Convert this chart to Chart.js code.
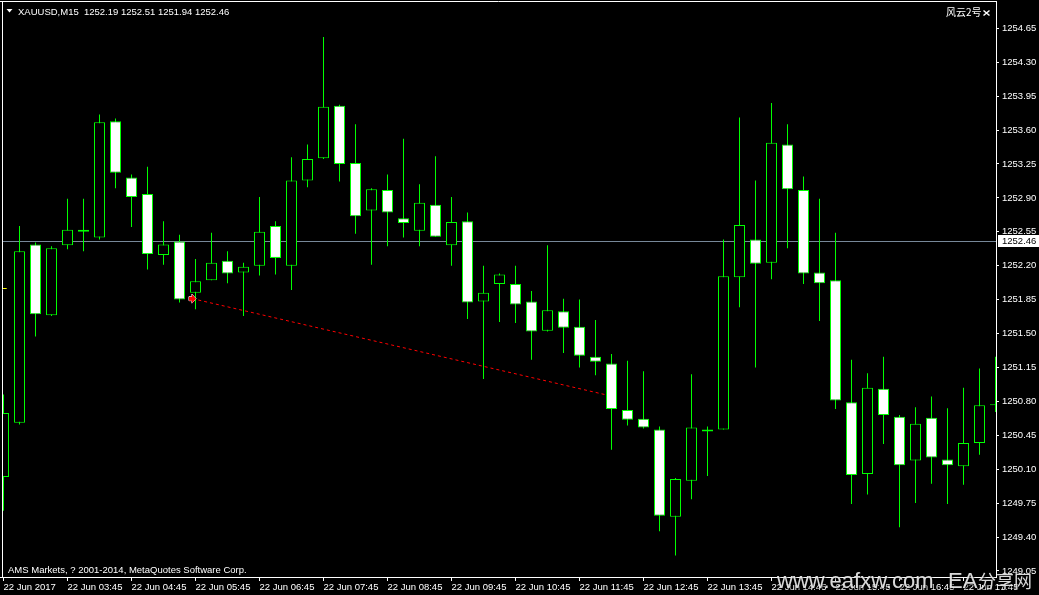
<!DOCTYPE html>
<html>
<head>
<meta charset="utf-8">
<script src="https://cdn.jsdelivr.net/npm/chart.js@4.4.1/dist/chart.umd.min.js"></script>
<style>
  html, body { margin: 0; padding: 0; background: #000; overflow: hidden; }
  canvas { display: block; }
</style>
</head>
<body>
<canvas id="chart" width="1039" height="595"></canvas>
<script>
// XAUUSD M15 bars, 22 Jun 2017 02:45 onward
const opens = [1250.02,1250.58,1252.42,1251.69,1252.41,1252.55,1252.49,1253.69,1253.11,1252.94,
  1252.31,1252.45,1251.92,1252.05,1252.25,1252.13,1252.20,1252.61,1252.20,1253.08,
  1253.31,1253.85,1253.26,1252.77,1252.98,1252.69,1252.56,1252.83,1252.41,1252.66,
  1251.83,1252.01,1252.01,1251.83,1251.53,1251.73,1251.57,1251.26,1251.19,1250.71,
  1250.62,1250.51,1249.61,1249.98,1250.51,1250.51,1252.08,1252.47,1252.23,1253.45,
  1252.98,1252.13,1252.05,1250.79,1250.05,1250.93,1250.64,1250.19,1250.63,1250.20,
  1250.13,1250.37,1250.76];
const highs = [1250.87,1252.61,1252.44,1252.40,1252.89,1252.89,1253.76,1253.72,1253.14,1253.22,
  1252.66,1252.52,1252.27,1252.54,1252.35,1252.23,1252.91,1252.66,1253.32,1253.45,
  1254.56,1253.86,1253.66,1253.00,1253.14,1253.51,1253.04,1253.33,1252.91,1252.75,
  1252.20,1252.12,1252.20,1251.94,1252.41,1251.86,1251.85,1251.64,1251.29,1251.22,
  1251.11,1250.54,1250.01,1251.08,1250.54,1252.47,1253.73,1253.08,1253.88,1253.66,
  1253.12,1252.89,1252.54,1251.23,1251.09,1251.26,1250.66,1250.74,1250.85,1250.73,
  1250.94,1251.14,1251.26];
const lows = [1249.67,1250.56,1251.47,1251.68,1252.37,1252.35,1252.47,1253.00,1252.60,1252.16,
  1252.21,1251.82,1251.75,1252.05,1252.02,1251.68,1252.10,1252.11,1251.95,1253.01,
  1253.30,1253.07,1252.53,1252.21,1252.40,1252.49,1252.40,1252.50,1252.20,1251.65,
  1251.03,1251.62,1251.61,1251.23,1251.52,1251.30,1251.15,1251.07,1250.30,1250.55,
  1250.52,1249.46,1249.21,1249.79,1250.03,1250.51,1251.77,1251.15,1252.06,1252.38,
  1252.01,1251.63,1250.72,1249.74,1249.84,1250.36,1249.50,1249.75,1249.95,1249.74,
  1249.94,1250.25,1250.69];
const closes = [1250.68,1252.35,1251.70,1252.38,1252.57,1252.57,1253.68,1253.16,1252.91,1252.32,
  1252.42,1251.85,1252.04,1252.23,1252.12,1252.19,1252.55,1252.28,1253.08,1253.30,
  1253.84,1253.25,1252.71,1252.99,1252.75,1252.64,1252.85,1252.50,1252.65,1251.82,
  1251.92,1252.11,1251.80,1251.52,1251.74,1251.56,1251.27,1251.21,1250.72,1250.61,
  1250.53,1249.62,1250.00,1250.53,1250.49,1252.09,1252.62,1252.22,1253.47,1252.99,
  1252.12,1252.02,1250.81,1250.04,1250.94,1250.66,1250.14,1250.57,1250.22,1250.14,
  1250.37,1250.76,1250.77];

// one label every 4 bars (1 hour)
const timeLabels = ['22 Jun 2017','22 Jun 03:45','22 Jun 04:45','22 Jun 05:45','22 Jun 06:45',
  '22 Jun 07:45','22 Jun 08:45','22 Jun 09:45','22 Jun 10:45','22 Jun 11:45','22 Jun 12:45',
  '22 Jun 13:45','22 Jun 14:45','22 Jun 15:45','22 Jun 16:45','22 Jun 17:45'];
const priceTicks = [1249.05,1249.40,1249.75,1250.10,1250.45,1250.80,1251.15,1251.50,1251.85,
  1252.20,1252.55,1252.90,1253.25,1253.60,1253.95,1254.30,1254.65];

const bidPrice = 1252.46;
// dotted trendline drawn from the arrow object
const trendBars = [11.81, 37.59];
const trendPrices = [1251.86, 1250.87];
const markerBar = 0.075;
const markerPrice = 1251.97;

const FONT = '"Liberation Sans", Arial, sans-serif';
const GREEN = '#00ff00';
Chart.defaults.font.family = FONT;
Chart.defaults.font.size = 9.5;

const isBull = closes.map((c, i) => c >= opens[i]);

const overlay = {
  id: 'overlay',
  beforeDatasetsDraw(chart) {
    const { ctx, chartArea } = chart;
    const y = Math.round(chart.scales.y.getPixelForValue(bidPrice)) + 0.5;
    ctx.save();
    ctx.strokeStyle = '#778899';
    ctx.lineWidth = 1;
    ctx.beginPath();
    ctx.moveTo(chartArea.left, y);
    ctx.lineTo(chartArea.right, y);
    ctx.stroke();
    ctx.restore();
  },
  afterDatasetsDraw(chart) {
    // arrow object at the start of the trendline + small yellow marker
    const { ctx, scales: { x, y } } = chart;
    const ax = x.getPixelForValue(trendBars[0]);
    const ay = y.getPixelForValue(trendPrices[0]);
    ctx.save();
    ctx.fillStyle = '#ff0000';
    ctx.strokeStyle = '#fff';
    ctx.lineWidth = 1;
    ctx.beginPath();
    ctx.moveTo(ax - 3.5, ay - 2);
    ctx.lineTo(ax - 0.5, ay - 2);
    ctx.lineTo(ax - 0.5, ay - 4.5);
    ctx.lineTo(ax + 3.5, ay);
    ctx.lineTo(ax - 0.5, ay + 4.5);
    ctx.lineTo(ax - 0.5, ay + 2);
    ctx.lineTo(ax - 3.5, ay + 2);
    ctx.closePath();
    ctx.stroke();
    ctx.fill();
    const mx = x.getPixelForValue(markerBar);
    const my = Math.round(y.getPixelForValue(markerPrice)) + 0.5;
    ctx.strokeStyle = '#ffff00';
    ctx.beginPath();
    ctx.moveTo(mx - 2, my); ctx.lineTo(mx + 2, my);
    ctx.stroke();
    ctx.restore();
  },
  afterDraw(chart) {
    const { ctx, chartArea } = chart;
    ctx.save();
    // frame
    ctx.strokeStyle = '#fff';
    ctx.lineWidth = 1;
    ctx.beginPath();
    ctx.moveTo(2.5, 1.5); ctx.lineTo(2.5, chartArea.bottom);
    ctx.moveTo(0, 1.5); ctx.lineTo(chartArea.right + 1, 1.5);
    ctx.moveTo(0, chartArea.bottom + 0.5); ctx.lineTo(chartArea.right, chartArea.bottom + 0.5);
    ctx.stroke();

    // bid label on the price axis
    const by = Math.round(chart.scales.y.getPixelForValue(bidPrice));
    ctx.fillStyle = '#fff';
    ctx.fillRect(998, by - 6, 41, 12);
    ctx.fillStyle = '#000';
    ctx.font = '9.5px ' + FONT;
    ctx.textBaseline = 'middle';
    ctx.fillText(bidPrice.toFixed(2), 1002, by + 0.5);

    // header
    ctx.fillStyle = '#fff';
    ctx.beginPath();
    ctx.moveTo(6.5, 9); ctx.lineTo(12.5, 9); ctx.lineTo(9.5, 12.5); ctx.closePath();
    ctx.fill();
    ctx.textBaseline = 'alphabetic';
    ctx.fillText('XAUUSD,M15  1252.19 1252.51 1251.94 1252.46', 18, 14.5);

    // expert name, top right
    ctx.font = '10px "Noto Sans CJK SC", sans-serif';
    ctx.fillText('风云2号', 946, 16);
    ctx.strokeStyle = '#fff';
    ctx.lineWidth = 1.5;
    ctx.beginPath();
    ctx.moveTo(983.5, 10.5); ctx.lineTo(989.5, 15.5);
    ctx.moveTo(989.5, 10.5); ctx.lineTo(983.5, 15.5);
    ctx.stroke();

    // copyright
    ctx.font = '9.5px ' + FONT;
    ctx.fillText('AMS Markets, ? 2001-2014, MetaQuotes Software Corp.', 8, 573);

    // watermark
    ctx.shadowColor = 'rgba(0,0,0,0.9)';
    ctx.shadowBlur = 2;
    ctx.shadowOffsetX = 1;
    ctx.shadowOffsetY = 1;
    ctx.fillStyle = 'rgba(235,235,235,0.92)';
    ctx.font = '22px ' + FONT;
    ctx.fillText('www.eafxw.com', 777, 588);
    ctx.fillText('EA', 948, 588);
    ctx.font = '18px "Noto Sans CJK SC", sans-serif';
    ctx.fillText('分享网', 978, 588);
    ctx.restore();
  }
};

new Chart(document.getElementById('chart'), {
  type: 'bar',
  data: {
    datasets: [
      {
        label: 'trend',
        type: 'line',
        data: trendBars.map((x, i) => ({ x, y: trendPrices[i] })),
        borderColor: '#ff0000',
        borderWidth: 1,
        borderDash: [3, 3],
        pointRadius: 0,
        order: 0
      },
      {
        label: 'bodies',
        data: opens.map((o, i) => ({ x: i, y: [o, closes[i]] })),
        backgroundColor: isBull.map(b => b ? '#000' : '#fff'),
        borderColor: GREEN,
        borderWidth: 1,
        borderSkipped: false,
        barThickness: 11,
        grouped: false,
        inflateAmount: 0,
        order: 1
      },
      {
        label: 'wicks',
        data: highs.map((h, i) => ({ x: i, y: [lows[i], h] })),
        backgroundColor: GREEN,
        borderWidth: 0,
        barThickness: 1,
        grouped: false,
        inflateAmount: 0,
        order: 2
      }
    ]
  },
  options: {
    responsive: false,
    animation: false,
    devicePixelRatio: 1,
    layout: { padding: { left: 2, top: 2, right: 0, bottom: 0 } },
    plugins: { legend: { display: false }, tooltip: { enabled: false } },
    scales: {
      x: {
        type: 'linear',
        min: -0.09375,
        max: 62.03125,
        offset: false,
        bounds: 'data',
        afterBuildTicks: s => { s.ticks = timeLabels.map((_, i) => ({ value: i * 4 })); },
        afterFit: s => { s.height = 18; s.paddingLeft = 0; s.paddingRight = 0; },
        grid: { offset: false, drawOnChartArea: false, tickLength: 4, tickColor: '#fff', color: '#fff' },
        border: { display: true, color: '#fff' },
        ticks: {
          color: '#fff', align: 'start', autoSkip: false, maxRotation: 0, minRotation: 0, padding: 1,
          callback: (v, i) => timeLabels[i]
        }
      },
      y: {
        type: 'linear',
        position: 'right',
        min: 1248.9875,
        max: 1254.9214,
        bounds: 'data',
        afterBuildTicks: s => { s.ticks = priceTicks.map(v => ({ value: v })); },
        afterFit: s => { s.width = 43; s.paddingTop = 0; s.paddingBottom = 0; },
        grid: { drawOnChartArea: false, tickLength: 3, tickColor: '#fff', color: '#fff' },
        border: { display: true, color: '#fff' },
        ticks: { color: '#fff', padding: 3, autoSkip: false, callback: v => v.toFixed(2) }
      }
    }
  },
  plugins: [overlay]
});
</script>
</body>
</html>
